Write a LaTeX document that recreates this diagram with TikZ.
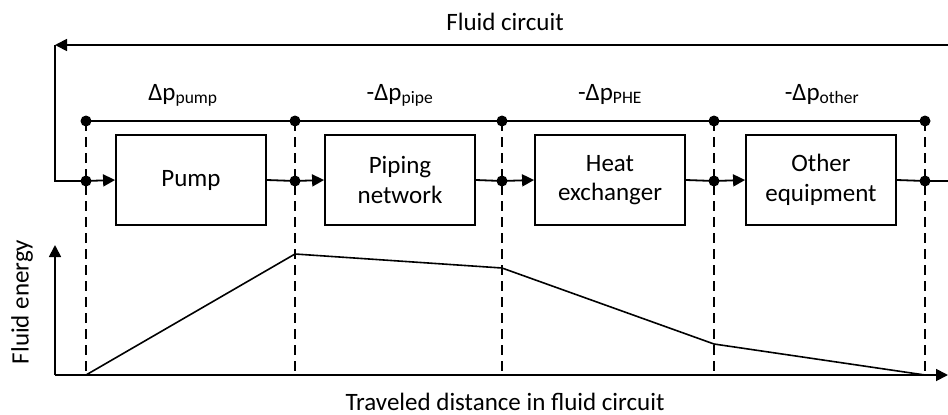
\documentclass[tikz,border=0pt]{standalone}
\usepackage{fontspec}
\setmainfont{Carlito}
\usetikzlibrary{arrows.meta}
\begin{document}
\begin{tikzpicture}[x=1pt,y=-1pt,
  line width=1.8pt,
  every node/.style={font=\fontsize{25}{29.5}\selectfont},
  blk/.style={draw,minimum width=150pt,minimum height=90pt,align=center,inner sep=0pt},
  dot/.style={circle,fill,inner sep=0pt,minimum size=11pt},
  tip/.style={-{Triangle[length=12pt,width=12pt]}},
  dsh/.style={dash pattern=on 10pt off 6pt,line width=1.5pt},
  lbl/.style={anchor=base}]
\useasboundingbox (0,0) rectangle (948,415);
% boxes
\node[blk] (pump) at (191,180) {Pump};
\node[blk] (pipe) at (400,180) {Piping\\network};
\node[blk] (phe)  at (610,180) {Heat\\exchanger};
\node[blk] (oth)  at (821,180) {Other\\equipment};
% flow dots
\node[dot] (f1) at (86,181) {};
\node[dot] (f2) at (295,181) {};
\node[dot] (f3) at (502,181) {};
\node[dot] (f4) at (714,181) {};
\node[dot] (f5) at (925,181) {};
% top dots
\node[dot] (t1) at (86,121) {};
\node[dot] (t2) at (295,121) {};
\node[dot] (t3) at (502,121) {};
\node[dot] (t4) at (714,121) {};
\node[dot] (t5) at (925,121) {};
% bottom axis points
\coordinate (b1) at (86,375);
\coordinate (b2) at (295,375);
\coordinate (b3) at (502,375);
\coordinate (b4) at (714,375);
\coordinate (b5) at (925,375);
% dashed verticals
\foreach \i in {1,...,5} \draw[dsh] (t\i.center) -- (b\i);
% dimension line
\draw (t1.center) -- (t5.center);
% labels
\node[lbl] (l1) at (183,100) {Δp\textsubscript{pump}};
\node[lbl] (l2) at (400,100) {-Δp\textsubscript{pipe}};
\node[lbl] (l3) at (610,100) {-Δp\textsubscript{PHE}};
\node[lbl] (l4) at (822,100) {-Δp\textsubscript{other}};
% fluid circuit loop
\coordinate (rtop) at (948,45);
\coordinate (ltop) at (55,45);
\coordinate (rflow) at (948,181);
\draw[tip] (rtop) -- (ltop);
\draw (ltop) |- (f1.center);
\node[lbl] (fc) at (505,30) {Fluid circuit};
% flow connectors
\draw[tip] (f1.center) -- (pump.west);
\draw (pump.east) -- (f2.center);
\draw[tip] (f2.center) -- (pipe.west);
\draw (pipe.east) -- (f3.center);
\draw[tip] (f3.center) -- (phe.west);
\draw (phe.east) -- (f4.center);
\draw[tip] (f4.center) -- (oth.west);
\draw (oth.east) -- (f5.center) -- (rflow);
% axes
\coordinate (org) at (55,375);
\coordinate (ytop) at (55,245);
\coordinate (xend) at (948,375);
\draw[tip] (org) -- (ytop);
\draw[tip] (org) -- (xend);
\node[rotate=90] (ye) at (22,302) {Fluid energy};
\node[lbl] (xe) at (505,410) {Traveled distance in fluid circuit};
% energy curve
\coordinate (e2) at (295,254);
\coordinate (e3) at (502,268);
\coordinate (e4) at (714,344);
\draw[line width=1.6pt] (b1) -- (e2) -- (e3) -- (e4) -- (b5);
\end{tikzpicture}
\end{document}
